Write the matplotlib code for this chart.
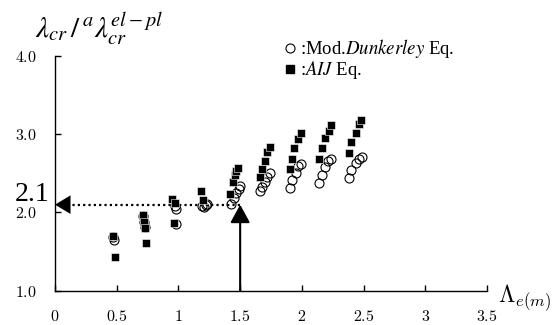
import matplotlib
matplotlib.use("Agg")
import matplotlib.pyplot as plt
from matplotlib.lines import Line2D

plt.rcParams["mathtext.fontset"] = "cm"

# Mod. Dunkerley equation (open circles)
dunk_x = [0.47, 0.48,
          0.71, 0.72, 0.73,
          0.97, 0.98, 0.98,
          1.19, 1.21, 1.22, 1.23,
          1.425, 1.45, 1.47, 1.49, 1.50,
          1.66, 1.68, 1.70, 1.72, 1.74,
          1.90, 1.92, 1.95, 1.97, 1.99,
          2.14, 2.16, 2.19, 2.21, 2.24,
          2.38, 2.40, 2.44, 2.46, 2.49]
dunk_y = [1.69, 1.65,
          1.95, 1.88, 1.82,
          2.08, 2.05, 1.85,
          2.08, 2.07, 2.09, 2.11,
          2.11, 2.19, 2.25, 2.30, 2.34,
          2.28, 2.33, 2.39, 2.45, 2.50,
          2.31, 2.41, 2.51, 2.59, 2.62,
          2.38, 2.48, 2.58, 2.66, 2.69,
          2.44, 2.54, 2.63, 2.69, 2.71]

# AIJ equation (filled squares)
aij_x = [0.47, 0.49,
         0.71, 0.72, 0.73, 0.74,
         0.95, 0.97, 0.965,
         1.18, 1.20,
         1.42, 1.44, 1.46, 1.47, 1.48,
         1.66, 1.68, 1.70, 1.72, 1.74,
         1.90, 1.92, 1.94, 1.965, 1.99,
         2.14, 2.165, 2.19, 2.22, 2.24,
         2.38, 2.40, 2.44, 2.46, 2.48]
aij_y = [1.70, 1.43,
         1.97, 1.88, 1.80, 1.61,
         2.17, 2.12, 1.87,
         2.28, 2.16,
         2.24, 2.39, 2.48, 2.53, 2.57,
         2.46, 2.55, 2.66, 2.77, 2.84,
         2.56, 2.69, 2.83, 2.94, 3.02,
         2.68, 2.82, 2.95, 3.04, 3.12,
         2.76, 2.90, 3.02, 3.13, 3.18]

x_ticks = [0, 0.5, 1, 1.5, 2, 2.5, 3, 3.5]
x_labels = ["0", "0.5", "1", "1.5", "2", "2.5", "3", "3.5"]
y_ticks = [1, 2, 3, 4]
y_labels = ["1.0", "2.0", "3.0", "4.0"]

lam_target = 1.5
ratio_read = 2.1

fig = plt.figure(figsize=(5.54, 3.25), dpi=100)
ax = fig.add_axes([0.0993, 0.1055, 0.7798, 0.722])

ax.plot(dunk_x, dunk_y, "o", ms=6.5, mfc="none", mec="black", mew=0.8, zorder=3)
ax.plot(aij_x, aij_y, "s", ms=5.8, mfc="black", mec="white", mew=0.4, zorder=4)

ax.set_xlim(0, 3.5)
ax.set_ylim(1, 4)
ax.spines["top"].set_visible(False)
ax.spines["right"].set_visible(False)
for s in ["left", "bottom"]:
    ax.spines[s].set_linewidth(1.0)

ax.set_xticks(x_ticks)
ax.set_xticklabels(["$%s$" % t for t in x_labels])
ax.set_yticks(y_ticks)
ax.set_yticklabels(["$%s$" % t for t in y_labels])
ax.tick_params(direction="in", length=4, width=1.0, labelsize=11.5, pad=13)

# dotted reading line and arrows
ax.plot([lam_target, 0.1], [ratio_read, ratio_read], color="black",
        lw=1.6, linestyle=(0, (1, 1.4)), zorder=2)
ax.annotate("", xy=(0, ratio_read), xytext=(0.13, ratio_read),
            arrowprops=dict(arrowstyle="-|>,head_length=0.55,head_width=0.33",
                            mutation_scale=20, color="black", lw=0.1,
                            shrinkA=0, shrinkB=0), zorder=5)
ax.annotate("", xy=(lam_target, ratio_read), xytext=(lam_target, 1.0),
            arrowprops=dict(arrowstyle="-|>,head_length=0.55,head_width=0.3",
                            mutation_scale=20, color="black", lw=1.5,
                            shrinkA=0, shrinkB=0), zorder=5)
ax.annotate("2.1", xy=(0, ratio_read), xytext=(-4, 7), textcoords="offset points",
            ha="right", va="center", fontsize=20, family="Liberation Serif",
            annotation_clip=False)

# legend drawn by hand
fig.add_artist(Line2D([290 / 554], [1 - 48 / 325], transform=fig.transFigure,
                      marker="o", ms=6.5, mfc="none", mec="black", mew=0.8))
fig.add_artist(Line2D([290 / 554], [1 - 69 / 325], transform=fig.transFigure,
                      marker="s", ms=5.8, mfc="black", mec="black"))
fig.text(300 / 554, 1 - 48 / 325, r":Mod.$\it{Dunkerley}$ Eq.", fontsize=13.5,
         family="Liberation Serif", va="center", math_fontfamily="stix")
fig.text(300 / 554, 1 - 70 / 325, r":$\it{AIJ}$ Eq.", fontsize=13.5,
         family="Liberation Serif", va="center", math_fontfamily="stix")

# axis titles
fig.text(35 / 554, 1 - 37 / 325, r"$\lambda_{cr}\,/\,{}^{a}\lambda_{cr}^{el-pl}$",
         fontsize=21, math_fontfamily="stix", va="baseline")
fig.text(498 / 554, 1 - 302 / 325, r"$\Lambda_{e(m)}$", fontsize=17,
         math_fontfamily="cm", va="baseline")

fig.savefig("out.png", dpi=100)
